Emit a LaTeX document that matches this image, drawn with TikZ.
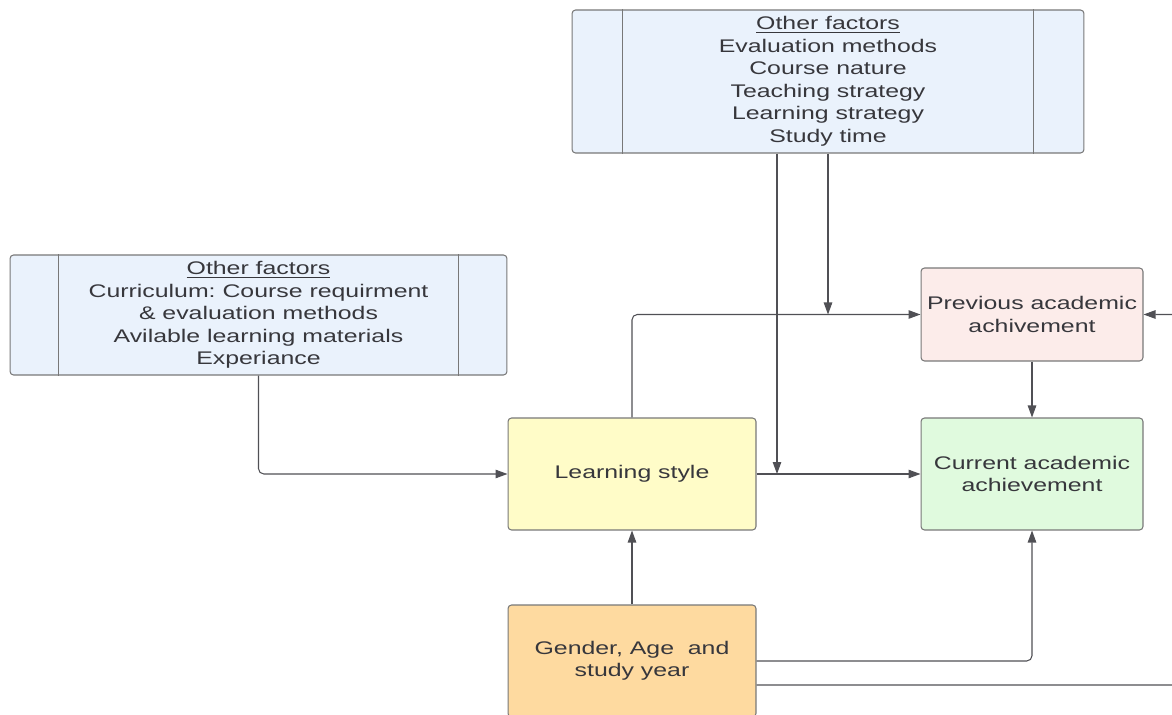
\documentclass[tikz,border=0pt]{standalone}
\usepackage{fontspec}
\setmainfont{Liberation Sans}[FakeStretch=1.36]
\frenchspacing
\usetikzlibrary{arrows.meta}
\definecolor{factorblue}{RGB}{234,242,252}
\definecolor{prevpink}{RGB}{252,236,234}
\definecolor{curgreen}{RGB}{224,250,222}
\definecolor{styleyellow}{RGB}{255,252,200}
\definecolor{genderorange}{RGB}{254,218,160}
\definecolor{boxgray}{RGB}{120,120,120}
\definecolor{linegray}{RGB}{80,80,85}
\definecolor{txtgray}{RGB}{55,55,60}
\begin{document}
\begin{tikzpicture}[x=0.02cm, y=-0.02cm,
	box/.style={draw=boxgray, line width=0.6pt, rounded corners=2pt, align=center, text=txtgray, inner sep=0pt, font=\fontsize{10.4}{12.8}\selectfont},
	link/.style={draw=linegray, line width=0.6pt, rounded corners=3pt, arrows={-Triangle[length=2.4mm, width=1.7mm]}}]
	\useasboundingbox (0,0) rectangle (1172,715);
	\clip (0,0) rectangle (1172,715);
	% factor boxes
	\node [box, fill=factorblue, minimum width=10.24cm, minimum height=2.86cm] (topf) at (828,81.5) {\underline{Other factors}\\Evaluation methods\\Course nature\\Teaching strategy\\Learning strategy\\Study time};
	\draw [boxgray, line width=0.6pt] ([xshift=1.02cm]topf.north west) -- ([xshift=1.02cm]topf.south west);
	\draw [boxgray, line width=0.6pt] ([xshift=-1.02cm]topf.north east) -- ([xshift=-1.02cm]topf.south east);
	\node [box, fill=factorblue, minimum width=9.94cm, minimum height=2.4cm] (leftf) at (258.5,315) {\underline{Other factors}\\Curriculum: Course requirment\\\& evaluation methods\\Avilable learning materials\\Experiance};
	\draw [boxgray, line width=0.6pt] ([xshift=0.98cm]leftf.north west) -- ([xshift=0.98cm]leftf.south west);
	\draw [boxgray, line width=0.6pt] ([xshift=-0.98cm]leftf.north east) -- ([xshift=-0.98cm]leftf.south east);
	% main boxes
	\node [box, fill=prevpink, minimum width=4.44cm, minimum height=1.86cm] (prev) at (1032,314.5) {Previous academic\\achivement};
	\node [box, fill=curgreen, minimum width=4.44cm, minimum height=2.24cm] (cur) at (1032,474) {Current academic\\achievement};
	\node [box, fill=styleyellow, minimum width=4.96cm, minimum height=2.24cm] (ls) at (632,474) {Learning style};
	\node [box, fill=genderorange, minimum width=4.96cm, minimum height=2.24cm] (gender) at (632,661) {Gender, Age\ \ and\\study year};
	% junctions and free ends
	\coordinate (jcur) at (777,474);
	\coordinate (jprev) at (828,314.5);
	\coordinate (offright) at (1195,314.5);
	% connectors
	\draw [link] (topf.south -| jcur) -- (jcur);
	\draw [link] (topf.south) -- (jprev);
	\draw [link] (ls.north) |- (prev.west);
	\draw [link] (ls.east) -- (cur.west);
	\draw [link] (prev.south) -- (cur.north);
	\draw [link] (leftf.south) |- (ls.west);
	\draw [link] (gender.north) -- (ls.south);
	\draw [link] (gender.east) -| (cur.south);
	\draw [link] ([yshift=-0.48cm]gender.east) -| (offright) -- (prev.east);
\end{tikzpicture}
\end{document}
